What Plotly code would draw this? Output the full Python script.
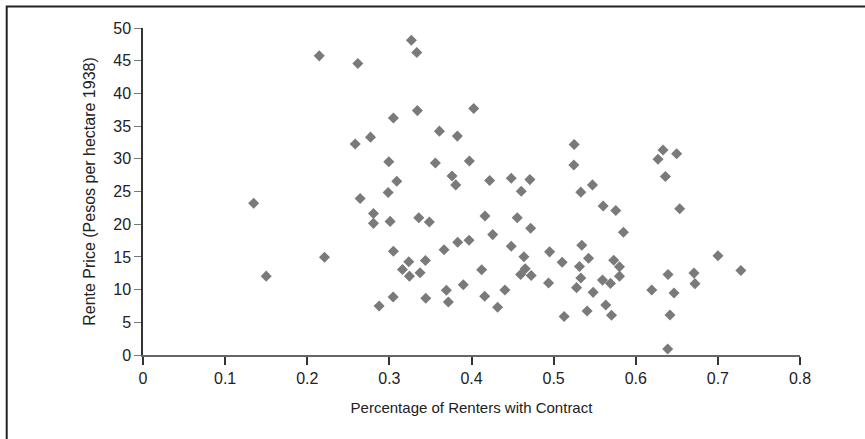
import plotly.graph_objects as go

pct_contract = [
    0.1347, 0.150, 0.2146, 0.221, 0.2616, 0.2584, 0.2644, 0.277, 0.2806, 0.2806,
    0.2875, 0.2993, 0.3049, 0.2985, 0.309, 0.3009, 0.3049, 0.3046, 0.3159, 0.3236,
    0.3244, 0.3268, 0.3334, 0.3341, 0.3358, 0.3374, 0.3439, 0.3443, 0.3487, 0.356,
    0.3609, 0.3666, 0.3694, 0.3718, 0.3763, 0.3808, 0.3828, 0.3832, 0.3900, 0.3974,
    0.3970, 0.4027, 0.4124, 0.4164, 0.4160, 0.4221, 0.4258, 0.4318, 0.4407, 0.4484,
    0.4484, 0.4557, 0.4606, 0.4638, 0.4654, 0.4598, 0.4711, 0.4720, 0.4727, 0.4938,
    0.4951, 0.5104, 0.5128, 0.5250, 0.5246, 0.5279, 0.5331, 0.5343, 0.5315, 0.5331,
    0.5408, 0.5425, 0.5473, 0.5481, 0.5603, 0.5595, 0.5635, 0.5692, 0.5705, 0.5732,
    0.5757, 0.5802, 0.5802, 0.5850, 0.6195, 0.6271, 0.6332, 0.6361, 0.6393, 0.6389,
    0.6417, 0.6466, 0.6498, 0.6535, 0.6709, 0.6721, 0.7001, 0.7280,
]
rente_price = [
    23.2, 12.06, 45.74, 14.95, 44.57, 32.25, 23.94, 33.31, 21.65, 20.13,
    7.5, 29.56, 36.25, 24.84, 26.57, 20.43, 15.87, 8.87, 13.08, 14.25,
    12.06, 48.12, 46.24, 37.37, 20.99, 12.58, 14.45, 8.67, 20.34, 29.36,
    34.23, 16.08, 9.89, 8.11, 27.38, 26.01, 33.47, 17.24, 10.75, 29.66,
    17.54, 37.68, 13.04, 21.25, 8.97, 26.67, 18.41, 7.30, 9.93, 27.03,
    16.63, 20.99, 25.05, 15.01, 13.19, 12.32, 26.82, 19.37, 12.17, 11.0,
    15.77, 14.19, 5.89, 32.2, 29.05, 10.3, 24.9, 16.78, 13.54, 11.76,
    6.74, 14.8, 26.01, 9.58, 22.77, 11.45, 7.65, 10.95, 6.08, 14.5,
    22.1, 13.49, 12.06, 18.76, 9.93, 29.92, 31.34, 27.28, 12.32, 0.91,
    6.13, 9.48, 30.77, 22.36, 12.52, 10.91, 15.17, 12.93,
]

x_ticks = [0, 0.1, 0.2, 0.3, 0.4, 0.5, 0.6, 0.7, 0.8]
x_tick_labels = ["0", "0.1", "0.2", "0.3", "0.4", "0.5", "0.6", "0.7", "0.8"]
y_ticks = [0, 5, 10, 15, 20, 25, 30, 35, 40, 45, 50]

fig = go.Figure()
fig.add_trace(go.Scatter(
    x=pct_contract, y=rente_price, mode="markers",
    marker=dict(symbol="diamond", size=8.5, color="#7a7a7d", line=dict(width=0)),
    showlegend=False, hoverinfo="x+y",
))

L, R, T, B = 142.5, 64.5, 27.5, 83.5
W, H = 865, 439
pw, ph = W - L - R, H - T - B

fig.update_layout(
    width=W, height=H,
    margin=dict(l=L, r=R, t=T, b=B, pad=0),
    paper_bgcolor="white", plot_bgcolor="white",
    font=dict(family="Liberation Sans, Arial, sans-serif", size=14, color="#222222"),
    xaxis=dict(
        range=[0, 0.8], tickvals=x_ticks, ticktext=x_tick_labels,
        showgrid=False, zeroline=False, showline=True, linecolor="#666666", linewidth=1.5,
        ticks="outside", ticklen=8, tickwidth=1.5, tickcolor="#333333",
        title=dict(text="Percentage of Renters with Contract", standoff=17, font=dict(size=15)),
        tickfont=dict(size=16),
    ),
    yaxis=dict(
        range=[0, 50], tickvals=y_ticks,
        showgrid=False, zeroline=False, showline=True, linecolor="#333333", linewidth=1.5,
        ticks="outside", ticklen=7, tickwidth=1, tickcolor="#777777",
        title=dict(text="Rente Price (Pesos per hectare 1938)", standoff=14, font=dict(size=16)),
        tickfont=dict(size=16),
    ),
    shapes=[dict(
        type="rect", xref="paper", yref="paper",
        x0=(6 - L) / pw, x1=(880 - L) / pw,
        y0=(H - B - 460) / ph, y1=(H - B - 6) / ph,
        line=dict(color="#222222", width=2), fillcolor="rgba(0,0,0,0)", layer="below",
    )],
)

fig.write_html(
    "out.html",
    config={"displayModeBar": False},
    post_script="document.body.style.margin='0';document.body.style.overflow='hidden';",
)
